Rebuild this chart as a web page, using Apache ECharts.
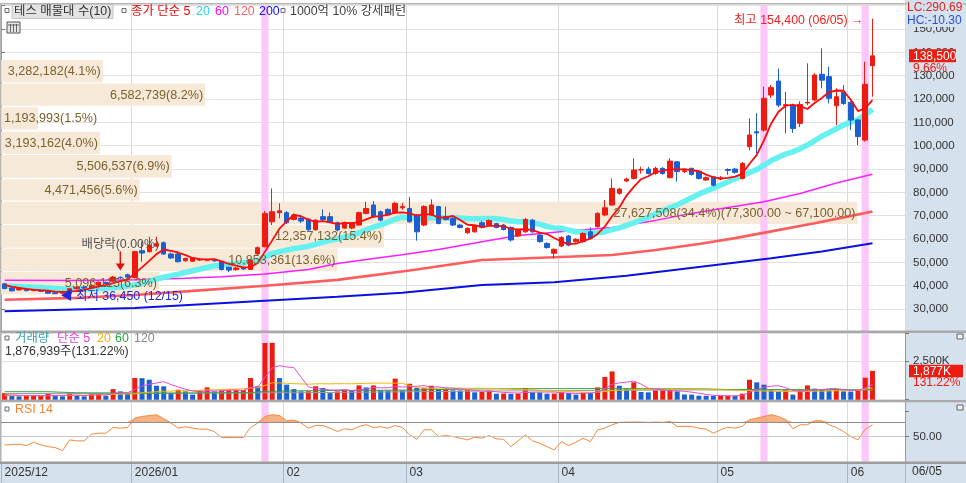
<!DOCTYPE html>
<html><head><meta charset="utf-8">
<script src="https://cdn.jsdelivr.net/npm/echarts@6/dist/echarts.min.js"></script>
<style>html,body{margin:0;padding:0;background:#fff;overflow:hidden}#c{width:966px;height:483px}</style>
</head><body><div id="c"></div>
<script>
// ---------------- DATA ----------------
const dates = [
'2025-12-04','2025-12-05','2025-12-08','2025-12-09','2025-12-10','2025-12-11','2025-12-12','2025-12-15','2025-12-16','2025-12-17','2025-12-18','2025-12-19','2025-12-22','2025-12-23','2025-12-24','2025-12-26','2025-12-29','2025-12-30',
'2026-01-02','2026-01-05','2026-01-06','2026-01-07','2026-01-08','2026-01-09','2026-01-12','2026-01-13','2026-01-14','2026-01-15','2026-01-16','2026-01-19','2026-01-20','2026-01-21','2026-01-22','2026-01-23','2026-01-26','2026-01-27','2026-01-28','2026-01-29','2026-01-30',
'2026-02-02','2026-02-03','2026-02-04','2026-02-05','2026-02-06','2026-02-09','2026-02-10','2026-02-11','2026-02-12','2026-02-13','2026-02-19','2026-02-20','2026-02-23','2026-02-24','2026-02-25','2026-02-26','2026-02-27',
'2026-03-03','2026-03-04','2026-03-05','2026-03-06','2026-03-09','2026-03-10','2026-03-11','2026-03-12','2026-03-13','2026-03-16','2026-03-17','2026-03-18','2026-03-19','2026-03-20','2026-03-23','2026-03-24','2026-03-25','2026-03-26','2026-03-27','2026-03-30','2026-03-31',
'2026-04-01','2026-04-02','2026-04-03','2026-04-06','2026-04-07','2026-04-08','2026-04-09','2026-04-10','2026-04-13','2026-04-14','2026-04-15','2026-04-16','2026-04-17','2026-04-20','2026-04-21','2026-04-22','2026-04-23','2026-04-24','2026-04-27','2026-04-28','2026-04-29','2026-04-30',
'2026-05-04','2026-05-06','2026-05-07','2026-05-08','2026-05-11','2026-05-12','2026-05-13','2026-05-14','2026-05-15','2026-05-18','2026-05-19','2026-05-20','2026-05-21','2026-05-22','2026-05-26','2026-05-27','2026-05-28','2026-05-29',
'2026-06-01','2026-06-02','2026-06-04','2026-06-05'];

const opens = [40800,39000,38200,38500,37900,38000,37600,36900,36800,36600,38700,39400,39200,40200,41400,41900,43600,44700,
43500,55000,54600,57000,58400,53600,53600,50700,50500,51000,51000,50800,50300,47900,46900,47800,47000,53600,56700,67400,71300,
71300,68400,69000,68500,64000,69600,69600,67000,64700,64700,66000,71000,74600,71700,72700,71300,73400,
73100,70300,66000,70300,73900,69600,68900,66000,62700,63100,67000,66000,66600,66000,65000,61300,63100,68100,61700,58100,53900,
57000,61300,58900,58900,63100,65300,70300,74600,79600,84900,86000,89600,90000,88100,90300,86300,93100,89000,90300,89100,85300,86700,
85800,89800,90000,86000,99600,106000,106700,121700,127700,117200,117400,109600,118300,119600,130600,129600,117100,122900,
118600,111000,102400,134300];
const closes = [38800,37800,38800,37900,38200,37600,36800,36600,37500,38700,39400,39000,40200,41500,41000,43700,43400,43700,
54600,54000,57400,58000,53600,51900,50300,51700,51900,51400,51100,50700,47000,46700,47600,47200,51000,56300,71000,71700,72100,
67000,70300,67700,64000,68100,68400,67400,63900,67000,67000,71300,73100,69600,68100,70300,75300,73900,
67400,63100,73900,74600,66700,68400,66000,65000,64600,65600,65000,67900,65000,64100,59600,63900,68400,63100,58900,56400,55600,
60700,57400,59900,62400,60300,71000,73400,81700,81400,85700,89600,89800,88100,90300,88100,93400,88900,89300,87700,86000,86300,83100,
86300,89400,88600,92400,104600,105500,120300,124900,117400,117600,107400,117700,118600,130300,128100,120300,121000,118100,
111000,103900,126300,138500];
const lows = [38500,37500,37900,37600,37600,37300,36600,36450,36600,36500,38400,38700,39000,40000,40600,41700,42900,43200,
43200,50300,54200,56500,53200,51500,50000,50300,50200,50600,50500,50200,46500,45800,46500,46800,46800,53000,56500,66000,68900,
66500,68000,66800,63500,63600,67400,67000,63300,64300,64200,65800,70600,69200,67600,69800,71000,72600,
67000,59300,65500,70000,66300,68000,65600,64600,62200,62800,64600,65600,64600,63700,59000,60800,62700,62700,58400,55900,51700,
56500,56900,58400,58400,59800,64900,69800,74200,79000,84400,85500,88000,87700,87500,87500,86000,84600,88300,87200,85500,84900,82500,
85200,87500,88000,85500,98000,96700,106000,120500,116500,105300,105500,108000,117400,119000,124600,118100,108900,117500,
106700,100300,101700,121000];
const highs = [41200,39500,39200,38800,38500,38300,37900,37200,37800,39000,39800,39900,40600,41800,41900,44200,44000,45100,
55000,58900,61000,61000,59000,54200,54000,52000,52300,51900,51500,51200,50600,48200,48000,48200,51300,56800,72000,81700,75300,
72000,71000,70400,69000,68500,72700,71400,67500,67500,67300,71800,76000,76300,72200,73200,76000,75500,
78100,70800,74500,77000,74300,73900,69300,66500,65000,66000,67800,68400,67000,66400,65400,64400,69000,68600,62200,58600,56000,
61200,61800,60400,62900,65000,71500,76700,86000,82000,86300,94600,91000,91000,91000,90800,94600,93500,90000,90600,89500,86900,87100,
87000,90300,90500,93000,111700,113900,125300,126000,133100,123100,118000,119000,135300,131000,141700,133900,124600,126000,
119000,111500,136000,154400];
const volumes = [430000,260000,220000,260000,262000,264000,390000,260000,220000,390000,260000,220000,390000,392000,260000,690000,540000,390000,
1410000,1400000,1300000,910000,870000,430000,650000,540000,330000,610000,800000,540000,600000,610000,620000,630000,1410000,870000,3690000,3700000,1410000,
980000,690000,540000,550000,870000,760000,430000,540000,650000,610000,930000,800000,930000,610000,600000,1370000,610000,
1040000,760000,770000,910000,700000,720000,610000,600000,620000,480000,500000,590000,390000,400000,380000,400000,760000,480000,470000,390000,400000,
480000,430000,330000,450000,440000,800000,1480000,1840000,910000,690000,1130000,500000,480000,610000,620000,630000,540000,340000,330000,260000,255000,250000,
252000,254000,250000,390000,1300000,1130000,980000,610000,540000,610000,330000,610000,930000,720000,690000,610000,690000,540000,
530000,610000,1430400,1876939];

const patternDays = ['2026-01-28','2026-05-13','2026-06-04'];   // 1000억 10% 강세패턴
const exDividendDate = '2025-12-29';
const exDividendRate = 0.00;

// moving averages (index, value)
const ma5Head  = [[0,40300],[1,39600],[2,39100],[3,38600]];
const ma20Head = [[0,39900],[4,39400],[8,38700],[12,38600],[16,39400],[18,40300]];
const ma60Pts  = [[0,42300],[10,42200],[18,42600],[25,43200],[30,43800],[36,45000],[42,47000],[46,49500],[51,51700],[55,53300],[60,55500],[66,58800],[71,61500],[78,63500],[84,65000],[90,68000],[95,71000],[100,73500],[105,76000],[110,79500],[115,84000],[120,87800]];
const ma120Pts = [[0,34000],[10,34800],[18,36000],[27,38000],[36,40000],[46,42500],[56,46500],[66,51000],[76,52200],[84,53200],[90,55300],[96,57900],[101,60400],[106,63300],[112,66800],[116,69300],[120,71800]];
const ma200Pts = [[0,29100],[18,30500],[36,33600],[46,35300],[55,37000],[66,40300],[76,41500],[86,44300],[96,48000],[106,51800],[113,54700],[120,58200]];

const volMa5Head  = [[0,330000],[1,310000],[2,290000],[3,280000]];
const volMa20Head = [[0,260000],[9,270000],[18,380000]];
const volMa60Pts  = [[0,520000],[6,520000],[10,450000],[20,420000],[34,450000],[36,550000],[45,600000],[55,620000],[65,700000],[75,720000],[85,720000],[97,700000],[100,660000],[110,650000],[120,650000]];
const volMa120Pts = [[0,400000],[40,450000],[66,560000],[97,640000],[120,640000]];

const rsi14 = [[0,38.3],[2,39.3],[3,37.4],[4,42.0],[5,38.3],[6,36.0],[7,34.6],[8,30.4],[9,45.3],[10,43.9],[11,43.9],[12,53.2],[13,54.6],[14,54.6],[15,62.5],[16,61.6],[17,62.5],[18,75.5],[19,77.8],[21,80.2],[22,74.6],[23,68.6],[24,61.6],[25,63.5],[26,61.6],[27,60.2],[28,60.2],[29,56.9],[30,48.6],[32,48.6],[33,48.6],[34,62.5],[35,68.6],[36,77.8],[37,80.2],[38,79.2],[39,71.8],[40,72.8],[41,68.6],[42,61.6],[43,65.3],[44,65.3],[45,61.6],[46,56.9],[47,60.7],[48,59.3],[49,63.9],[50,66.3],[51,62.5],[52,63.5],[53,61.6],[54,65.3],[55,62.5],[56,52.3],[57,46.2],[58,59.3],[59,59.3],[60,50.0],[61,51.4],[62,50.0],[64,45.3],[65,49.1],[66,47.7],[67,51.4],[68,46.7],[69,46.2],[70,36.0],[71,43.9],[72,52.3],[73,43.9],[74,40.6],[75,36.0],[76,31.3],[77,42.9],[78,37.4],[79,42.0],[80,47.7],[81,42.9],[82,59.3],[83,61.6],[84,66.3],[85,69.5],[86,70.0],[88,70.0],[89,69.5],[90,70.0],[91,69.5],[92,70.9],[93,64.0],[95,64.0],[96,61.6],[97,60.2],[98,54.6],[99,59.3],[100,63.0],[101,61.6],[102,64.0],[103,73.3],[104,75.5],[105,77.8],[106,80.2],[107,77.8],[108,73.3],[109,60.7],[110,66.3],[111,66.3],[112,71.8],[113,71.8],[114,66.3],[115,62.5],[116,57.0],[117,50.0],[118,45.3],[119,60.0],[120,66.3]];

// volume profile (매물대, 10 bands, top to bottom)
const profileVolumes = [3282182,6582739,1193993,3193162,5506537,4471456,27627508,12357132,10853361,5096115];
const profilePct     = [4.1,8.2,1.5,4.0,6.9,5.6,34.4,15.4,13.6,6.3];
const profileTop     = [136700,126700,116500,106000,96000,85600,76000,66000,55900,45900];
const profileBottom  = [127200,117100,106900,96500,86300,76500,66400,56300,46200,36200];
const profileMaxRange = [77300,67100];

const lcValue = '290.69', hcValue = '-10.30';
const volRatioText = '131.22%';

// ---------------- HELPERS ----------------
const RED = '#ee1b10', BLUE = '#1b5fd0';
const FN = '"Liberation Sans", "Noto Sans CJK KR", Arial, sans-serif';
const PAD = 4;
const axisCats = dates.concat(Array.from({length: PAD}, (_, i) => '~' + i));
function comma(n){ return String(Math.round(n)).replace(/\B(?=(\d{3})+(?!\d))/g, ','); }
function monthStart(i){ return i < dates.length && (i === 0 || dates[i].slice(0,7) !== dates[i-1].slice(0,7)); }
function monthLabel(v, i){
  if (!monthStart(i)) return '';
  const d = dates[i];
  if (i === 0 || d.slice(0,4) !== dates[i-1].slice(0,4)) return d.slice(0,4) + '/' + d.slice(5,7);
  return d.slice(5,7);
}
function sma(arr, n, head){
  const out = head.slice();
  for (let i = n - 1; i < arr.length; i++){ let s = 0; for (let j = i - n + 1; j <= i; j++) s += arr[j]; out.push([i, s / n]); }
  return out;
}
const candles = dates.map((d, i) => [opens[i], closes[i], lows[i], highs[i]]);
const volData = volumes.map((v, i) => ({value: v, itemStyle: {color: (i === 0 || v >= volumes[i-1]) ? RED : BLUE}}));
const patternData = dates.map(d => patternDays.includes(d) ? 1 : '-');
const rsiFill = rsi14.map(([k, v]) => [k, Math.max(v, 70)]);

const mctx = document.createElement('canvas').getContext('2d');
const PROFILE_FONT = '12.6px ' + FN;
mctx.font = PROFILE_FONT;
const maxBand = profileVolumes.indexOf(Math.max(...profileVolumes));
function profileText(i){
  let s = comma(profileVolumes[i]) + '(' + profilePct[i].toFixed(1) + '%)';
  if (i === maxBand) s += '(' + comma(profileMaxRange[0]) + '.00 ~ ' + comma(profileMaxRange[1]) + '.00)';
  return s;
}
const profileData = profileVolumes.map((v, i) => [v, profileTop[i], profileBottom[i], i]);

// ---------------- LAYOUT ----------------
const GL = 1, GR = 61;
const grids = [
  {left: GL, right: GR, top: 5.7, height: 326.7},
  {left: GL, right: GR, top: 333, height: 66.7},
  {left: GL, right: GR, top: 400.45, height: 61.3}
].map(g => Object.assign(g, {containLabel: false, outerBoundsMode: 'none'}));

const splitV = {show: true, interval: monthStart, lineStyle: {color: '#dadada', width: 1}};
function catAxis(gi, extra){
  return Object.assign({type: 'category', gridIndex: gi, data: axisCats, boundaryGap: true,
    axisLine: {show: false}, axisTick: {show: false}, axisLabel: {show: false}, splitLine: splitV}, extra || {});
}
const xAxis = [
  catAxis(0),
  catAxis(1),
  catAxis(2, {
    axisLine: {show: true, lineStyle: {color: '#9a9a9a'}},
    axisTick: {show: true, interval: monthStart, length: 21, lineStyle: {color: '#a9b4c4'}},
    axisLabel: {show: true, interval: monthStart, formatter: monthLabel, align: 'left', margin: 5, color: '#333', fontSize: 12, fontFamily: FN}
  }),
  {type: 'value', gridIndex: 0, min: 0, max: 29160000, show: false},
  catAxis(0, {show: false, splitLine: {show: false}}),
  catAxis(1, {show: false, splitLine: {show: false}}),
  catAxis(2, {show: false, splitLine: {show: false}})
];
const yAxis = [
  {type: 'value', gridIndex: 0, position: 'right', min: 20000, max: 160000, interval: 10000,
    axisLine: {show: true, lineStyle: {color: '#9a9a9a'}},
    axisTick: {show: true, length: 4, lineStyle: {color: '#777'}},
    axisLabel: {margin: 8, color: '#333', fontSize: 11.5, fontFamily: FN, formatter: v => (v <= 20000 || v >= 160000) ? '' : comma(v)},
    splitLine: {show: true, lineStyle: {color: '#e1e1e1'}}},
  {type: 'value', gridIndex: 1, position: 'right', min: 0, max: 4340000, interval: 2500000,
    axisLine: {show: true, lineStyle: {color: '#9a9a9a'}},
    axisTick: {show: true, length: 4, lineStyle: {color: '#777'}},
    axisLabel: {margin: 8, color: '#333', fontSize: 11.5, fontFamily: FN, formatter: v => v === 2500000 ? comma(v / 1000) + 'K' : ''},
    splitLine: {show: true, lineStyle: {color: '#e1e1e1'}}},
  {type: 'value', gridIndex: 2, position: 'right', min: 15, max: 100, interval: 35,
    axisLine: {show: true, lineStyle: {color: '#9a9a9a'}},
    axisTick: {show: true, length: 4, lineStyle: {color: '#777'}},
    axisLabel: {margin: 8, color: '#333', fontSize: 11.5, fontFamily: FN, formatter: v => v === 50 ? '50.00' : ''},
    splitLine: {show: false}},
  {type: 'value', gridIndex: 0, min: 0, max: 1, show: false},
  {type: 'value', gridIndex: 1, min: 0, max: 1, show: false},
  {type: 'value', gridIndex: 2, min: 0, max: 1, show: false}
];

function line(name, data, xi, yi, color, width, z){
  return {name, type: 'line', xAxisIndex: xi, yAxisIndex: yi, data, showSymbol: false, symbol: 'none', silent: true,
    lineStyle: {color, width}, z};
}
function patternSeries(xi, yi){
  return {type: 'bar', xAxisIndex: xi, yAxisIndex: yi, data: patternData, barWidth: '100%', silent: true,
    itemStyle: {color: '#fcc8fa'}, z: 1};
}

const series = [
  patternSeries(4, 3), patternSeries(5, 4), patternSeries(6, 5),
  {type: 'custom', xAxisIndex: 3, yAxisIndex: 0, data: profileData, z: 1, silent: true, clip: false,
    renderItem: (params, api) => {
      const p1 = api.coord([0, api.value(1)]), p2 = api.coord([api.value(0), api.value(2)]);
      return {type: 'rect', shape: {x: p1[0], y: p1[1], width: p2[0] - p1[0], height: p2[1] - p1[1]},
        style: {fill: '#f6e9d7'}};
    }},
  line('MA200', ma200Pts, 0, 0, '#0a10e0', 2, 3),
  line('MA120', ma120Pts, 0, 0, '#ff5d5d', 2.6, 3),
  line('MA60', ma60Pts, 0, 0, '#ff1eff', 1.5, 3),
  line('MA20', sma(closes, 20, ma20Head), 0, 0, '#66f1f1', 5.5, 3),
  {type: 'candlestick', xAxisIndex: 0, yAxisIndex: 0, data: candles, barWidth: 5, z: 4, silent: true,
    itemStyle: {color: RED, color0: BLUE, borderColor: RED, borderColor0: BLUE, borderWidth: 1}},
  line('MA5', sma(closes, 5, ma5Head), 0, 0, '#ff0a0a', 1.8, 5),
  {type: 'custom', xAxisIndex: 3, yAxisIndex: 0, data: profileData, z: 6, silent: true, clip: false,
    renderItem: (params, api) => {
      const i = api.value(3);
      const p1 = api.coord([0, api.value(1)]), p2 = api.coord([api.value(0), api.value(2)]);
      const text = profileText(i);
      const w = mctx.measureText(text).width;
      const fits = w + 3 <= p2[0] - p1[0];
      return {type: 'text', x: fits ? p2[0] - 2 : p1[0] + 3, y: (p1[1] + p2[1]) / 2 + 0.5,
        style: {text, fill: '#7b6130', font: PROFILE_FONT, align: fits ? 'right' : 'left', verticalAlign: 'middle'}};
    }},
  {type: 'bar', xAxisIndex: 1, yAxisIndex: 1, data: volData, barWidth: 5, z: 3, silent: true},
  line('VMA120', volMa120Pts, 1, 1, '#9a9a9a', 1, 4),
  line('VMA60', volMa60Pts, 1, 1, '#33a043', 1, 4),
  line('VMA20', sma(volumes, 20, volMa20Head), 1, 1, '#f4b700', 1, 4),
  line('VMA5', sma(volumes, 5, volMa5Head), 1, 1, '#e44ad8', 1, 4),
  {type: 'line', xAxisIndex: 2, yAxisIndex: 2, data: rsiFill, showSymbol: false, symbol: 'none', silent: true,
    lineStyle: {width: 0, opacity: 0}, areaStyle: {origin: 70, color: '#f4a46c', opacity: 0.85}, z: 3},
  Object.assign(line('RSI', rsi14, 2, 2, '#f7893a', 1, 4), {
    markLine: {symbol: 'none', silent: true, label: {show: false}, animation: false,
      data: [{yAxis: 70, lineStyle: {color: '#8d8d8d', width: 1, type: 'solid'}},
             {yAxis: 50, lineStyle: {color: '#c6c6c6', width: 1, type: 'solid'}}]}})
];

const chart = echarts.init(document.getElementById('c'), null, {renderer: 'canvas'});
chart.setOption({animation: false, backgroundColor: '#ffffff', grid: grids, xAxis, yAxis, series});

// ---------------- GRAPHICS / ANNOTATIONS ----------------
const G = [];
const AXBG = '#d6e1ee';
const TF = '12.4px ' + FN;
function rect(x, y, w, h, fill, stroke, z){ G.push({type: 'rect', z: z == null ? 50 : z, silent: true, shape: {x, y, width: w, height: h}, style: {fill, stroke: stroke || null, lineWidth: 1}}); }
function txt(x, y, text, fill, extra){ G.push({type: 'text', x, y, z: 60, silent: true, style: Object.assign({text, fill, font: TF, verticalAlign: 'middle', align: 'left'}, extra || {})}); }
function icon(x, y){ rect(x, y, 4, 4, '#f4f4f4', '#6d6d6d', 55); }

// backgrounds
rect(905, 0, 61, 483, AXBG, null, -5);
rect(0, 462, 966, 21, AXBG, null, -5);
// frame / separators
rect(0, 3, 966, 1.5, '#b4b4b4', null, 40);
rect(0, 3, 1.2, 460, '#b4b4b4', null, 40);
rect(0, 330.6, 966, 2.4, '#a9a9a9', null, 40);
rect(0, 400, 966, 2.2, '#a9a9a9', null, 40);
rect(0, 461.6, 966, 2.4, '#9c9c9c', null, 40);

// main legend
icon(5, 8.5);
rect(12, 4.5, 101, 14, '#e3e3e3', '#c4c4c4', 52);
txt(14, 11.5, '테스 매물대 수(10)', '#333');
icon(122, 8.5);
txt(131, 11.5, '종가 단순 5', '#f00000');
txt(196, 11.5, '20', '#1fd9ea');
txt(215, 11.5, '60', '#ff00ff');
txt(234, 11.5, '120', '#ff6262');
txt(259, 11.5, '200', '#1010ff');
icon(281, 8.5);
txt(290, 11.5, '1000억 10% 강세패턴', '#404040');
// table icon
rect(7, 22, 13, 11, '#e6e6e6', '#555', 55);
[[10.5,24,10.5,32],[13.5,24,13.5,32],[16.5,24,16.5,32],[8,25,19,25]].forEach(s =>
  G.push({type: 'polyline', z: 56, silent: true, shape: {points: [[s[0],s[1]],[s[2],s[3]]]}, style: {stroke: '#666', lineWidth: 1}}));

// volume legend
icon(5, 336);
txt(15, 338.7, '거래량', '#3a9ea8');
txt(57, 338.7, '단순 5', '#e040d8');
txt(97, 338.7, '20', '#f0b000');
txt(115, 338.7, '60', '#30a040');
txt(134, 338.7, '120', '#888');
const lastI = dates.length - 1;
txt(5, 351.5, comma(volumes[lastI]) + '주(' + volRatioText + ')', '#333');
// RSI legend
icon(5, 407);
txt(15, 409.7, 'RSI 14', '#f58634');
// panel icons on the right
rect(957, 334, 6, 5, '#eee', '#666', 55);
rect(957, 405, 6, 5, '#eee', '#666', 55);

// right axis extra texts
txt(907, 8, 'LC:' + lcValue, '#e02020', {font: '12px ' + FN, backgroundColor: AXBG});
txt(907, 21, 'HC:' + hcValue, '#2050e0', {font: '12px ' + FN, backgroundColor: AXBG});
const px = (k, p) => chart.convertToPixel({xAxisIndex: 0, yAxisIndex: 0}, [k, p]);
const lastC = closes[lastI], prevC = closes[lastI - 1];
const yC = px(lastI, lastC)[1];
rect(909, yC - 6.5, 47, 13, '#ee1b10', null, 58);
txt(913, yC + 0.5, comma(lastC), '#ffffff', {font: '12px ' + FN});
txt(913, yC + 13, ((lastC / prevC - 1) * 100).toFixed(2) + '%', '#ee1b10', {font: '12px ' + FN});
const yV = chart.convertToPixel({xAxisIndex: 1, yAxisIndex: 1}, [lastI, volumes[lastI]])[1];
rect(909, yV - 6, 54, 12.5, '#ee1b10', null, 58);
txt(913, yV + 0.5, comma(volumes[lastI] / 1000) + 'K', '#ffffff', {font: '12px ' + FN});
txt(913, yV + 12, volRatioText, '#ee1b10', {font: '12px ' + FN});
// right side date
const ld = dates[lastI];
txt(912, 472, ld.slice(5,7) + '/' + ld.slice(8,10), '#333', {font: '12px ' + FN});

// highest / lowest markers
const iHi = highs.indexOf(Math.max(...highs));
const iLo = lows.indexOf(Math.min(...lows));
const ph = px(iHi, highs[iHi]);
txt(ph[0] - 9, ph[1] + 2, '최고 ' + comma(highs[iHi]) + ' (' + dates[iHi].slice(5,7) + '/' + dates[iHi].slice(8,10) + ') →', '#f02020', {align: 'right'});
const pl = px(iLo, lows[iLo]);
txt(pl[0] + 5, pl[1] + 2.5, '◀ 최저 ' + comma(lows[iLo]) + ' (' + dates[iLo].slice(5,7) + '/' + dates[iLo].slice(8,10) + ')', '#1e28e0');

// ex-dividend marker
const iDiv = dates.indexOf(exDividendDate);
const pd = px(iDiv, highs[iDiv]);
txt(pd[0], pd[1] - 32, '배당락(' + exDividendRate.toFixed(2) + '%)', '#505050', {align: 'center'});
G.push({type: 'polyline', z: 60, silent: true, shape: {points: [[pd[0], pd[1] - 25], [pd[0], pd[1] - 12]]}, style: {stroke: '#e01010', lineWidth: 1.5}});
G.push({type: 'polygon', z: 60, silent: true, shape: {points: [[pd[0] - 4.5, pd[1] - 13], [pd[0] + 4.5, pd[1] - 13], [pd[0], pd[1] - 6]]}, style: {fill: '#e01010'}});

chart.setOption({graphic: G});
</script>
</body></html>
